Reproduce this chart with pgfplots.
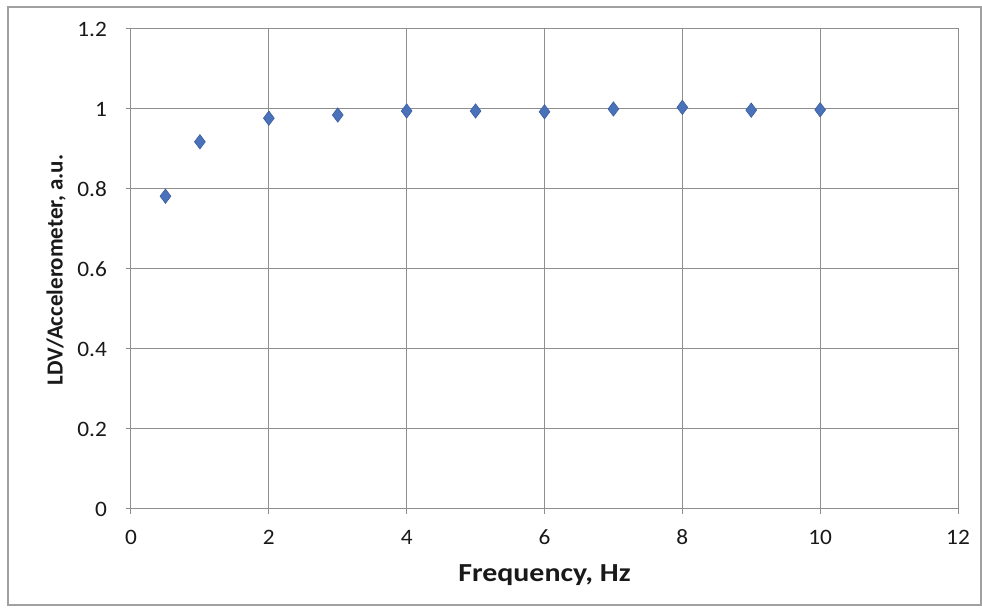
\documentclass[border=0pt]{standalone}
\usepackage{pgfplots}
\pgfplotsset{compat=1.18}
\usepackage{fontspec}
\setmainfont{Carlito}
\newfontfamily\widefont[FakeStretch=1.06]{Carlito}
\newfontfamily\widerfont[FakeStretch=1.15]{Carlito}
\definecolor{gridgray}{HTML}{8E8E8E}
\definecolor{framegray}{HTML}{A0A0A0}
\definecolor{mkfill}{HTML}{4A72BA}
\definecolor{mkdraw}{HTML}{3C5E9E}

\begin{document}
\begin{tikzpicture}
% picture area (982x608 px at 0.5pt per px)
\path (0pt,0pt) rectangle (491pt,-304pt);
\draw[framegray, line width=0.6pt] (4pt,-3.5pt) rectangle (490.5pt,-302.5pt);
\begin{axis}[
  at={(65.5pt,-254.5pt)}, anchor=south west,
  scale only axis,
  width=413.5pt, height=240pt,
  xmin=0, xmax=12, ymin=0, ymax=1.2,
  xtick={0,2,...,12},
  ytick={0,0.2,...,1.2},
  yticklabels={0,0.2,0.4,0.6,0.8,1,1.2},
  grid=major,
  major grid style={gridgray, line width=0.5pt},
  axis line style={gridgray, line width=0.5pt},
  tick style={gridgray, line width=0.5pt},
  tick align=outside,
  major tick length=2.5pt,
  xtick pos=bottom, ytick pos=left,
  /pgf/number format/assume math mode=true,
  ticklabel style={font=\widefont\fontsize{11}{12}\selectfont, text=black!90},
  xticklabel style={anchor=center, yshift=-11.5pt},
  yticklabel style={anchor=east, xshift=-6pt},
  xlabel={\widerfont\bfseries Frequency, Hz},
  ylabel={\bfseries LDV/Accelerometer, a.u.},
  label style={text=black!90},
  xlabel style={font=\fontsize{13}{14}\selectfont,
    at={(axis description cs:0.5,-0.1375)}, anchor=center},
  ylabel style={font=\fontsize{11.5}{13}\selectfont,
    at={(axis description cs:-0.0907,0.498)}, anchor=center},
]
\addplot[only marks, mark=diamond*, mark size=3.6pt,
  mark options={fill=mkfill, draw=mkdraw, line width=0.3pt}]
  coordinates {
  (0.5,0.782) (1,0.918) (2,0.977) (3,0.985) (4,0.995) (5,0.995)
  (6,0.993) (7,1.000) (8,1.004) (9,0.997) (10,0.998)
};
\end{axis}
\end{tikzpicture}
\end{document}
